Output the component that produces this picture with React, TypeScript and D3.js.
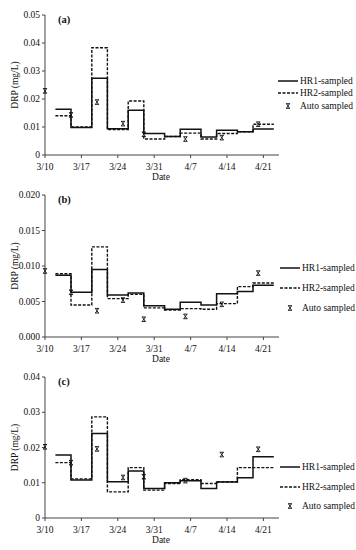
import React from "react";
import * as d3 from "d3";

// ---- data ----
// step boundaries in days after 3/10 (sampling intervals)
const stepDays = [2, 5, 9, 12, 16, 19, 23, 26, 30, 33, 37, 40, 44];
// auto sampler days after 3/10
const autoDays = [0, 5, 10, 15, 19, 27, 34, 41];
const tickDays = [0, 7, 14, 21, 28, 35, 42];
const tickLabels = ["3/10", "3/17", "3/24", "3/31", "4/7", "4/14", "4/21"];

const hr1A = [0.0163, 0.0098, 0.0274, 0.0094, 0.016, 0.0077, 0.0066, 0.0092, 0.0064, 0.0088, 0.0083, 0.0093];
const hr2A = [0.014, 0.0100, 0.0383, 0.0091, 0.0193, 0.0057, 0.0066, 0.0078, 0.0057, 0.0077, 0.0083, 0.011];
const autoA = [0.0229, 0.0143, 0.0189, 0.0112, 0.0074, 0.0057, 0.0062, 0.011];

const hr1B = [0.0087, 0.0063, 0.0095, 0.0059, 0.0062, 0.0044, 0.0039, 0.0049, 0.0045, 0.0061, 0.0064, 0.0073];
const hr2B = [0.0089, 0.0045, 0.0127, 0.0054, 0.006, 0.0041, 0.0038, 0.004, 0.0039, 0.0047, 0.0071, 0.0076];
const autoB = [0.0093, 0.0063, 0.0037, 0.0052, 0.0025, 0.0029, 0.0046, 0.009];

const hr1C = [0.0179, 0.0108, 0.024, 0.0103, 0.0133, 0.0084, 0.01, 0.0106, 0.0084, 0.0102, 0.0114, 0.0174];
const hr2C = [0.0157, 0.0111, 0.0287, 0.0074, 0.0143, 0.0079, 0.0098, 0.0109, 0.0098, 0.0103, 0.0143, 0.0143];
const autoC = [0.0202, 0.0157, 0.0196, 0.0115, 0.0117, 0.0106, 0.018, 0.0195];

const yTicksA = [0, 0.01, 0.02, 0.03, 0.04, 0.05];
const yTicksB = [0, 0.005, 0.01, 0.015, 0.02];
const yTicksC = [0, 0.01, 0.02, 0.03, 0.04];

const legendLabels = ["HR1-sampled", "HR2-sampled", "Auto sampled"];

// ---- layout ----
const W = 356;
const H = 550;
const FONT = "Liberation Serif, serif";
const xScale = d3.scaleLinear().domain([0, 45]).range([45, 279]);

const panels = [
  { tag: "(a)", hr1: hr1A, hr2: hr2A, auto: autoA, yTicks: yTicksA, fmt: (v: number) => (v === 0 ? "0" : d3.format(".2f")(v)), top: 15, bottom: 155, legY: [81, 93, 106], legX: 278 },
  { tag: "(b)", hr1: hr1B, hr2: hr2B, auto: autoB, yTicks: yTicksB, fmt: d3.format(".3f"), top: 195, bottom: 337, legY: [268, 288, 308], legX: 280 },
  { tag: "(c)", hr1: hr1C, hr2: hr2C, auto: autoC, yTicks: yTicksC, fmt: (v: number) => (v === 0 ? "0" : d3.format(".2f")(v)), top: 377, bottom: 518, legY: [467, 487, 506], legX: 280 },
];

const markerPath = "M-2,-2.3H2M-2,2.3H2M-1.6,-2.3L1.6,2.3M1.6,-2.3L-1.6,2.3";

function Panel({ p }: { p: (typeof panels)[number] }) {
  const y = d3.scaleLinear().domain([0, p.yTicks[p.yTicks.length - 1]]).range([p.bottom, p.top]);
  const line = d3
    .line<[number, number]>()
    .x((d) => xScale(d[0]))
    .y((d) => y(d[1]))
    .curve(d3.curveStepAfter);
  const pts = (vals: number[]): [number, number][] => {
    const a: [number, number][] = vals.map((v, i) => [stepDays[i], v]);
    a.push([stepDays[stepDays.length - 1], vals[vals.length - 1]]);
    return a;
  };
  const x0 = xScale.range()[0];
  const x1 = xScale.range()[1];
  const lx = p.legX;
  return (
    <g fontFamily={FONT} fontSize={9.5} fill="#111">
      {/* axes */}
      <line x1={x0} x2={x0} y1={p.top} y2={p.bottom} stroke="#444" strokeWidth={1} />
      <line x1={x0} x2={x1} y1={p.bottom} y2={p.bottom} stroke="#444" strokeWidth={1} />
      {p.yTicks.map((t) => (
        <g key={t}>
          <line x1={x0 - 3} x2={x0} y1={y(t)} y2={y(t)} stroke="#444" />
          <text x={x0 - 5} y={y(t)} dy="0.33em" textAnchor="end">
            {p.fmt(t)}
          </text>
        </g>
      ))}
      {tickDays.map((d, i) => (
        <g key={d}>
          <line x1={xScale(d)} x2={xScale(d)} y1={p.bottom} y2={p.bottom + 3} stroke="#444" />
          <text x={xScale(d)} y={p.bottom + 12} dy="0.33em" textAnchor="middle">
            {tickLabels[i]}
          </text>
        </g>
      ))}
      <text x={161} y={p.bottom + 22} dy="0.33em" textAnchor="middle">
        Date
      </text>
      <text
        transform={`translate(15,${(p.top + p.bottom) / 2}) rotate(-90)`}
        textAnchor="middle"
        dy="0.33em"
      >
        DRP (mg/L)
      </text>
      <text x={58} y={p.top + 8} fontSize={10.5} fontWeight="bold">
        {p.tag}
      </text>
      {/* series */}
      <path d={line(pts(p.hr2)) || ""} fill="none" stroke="#111" strokeWidth={1.4} strokeDasharray="3,1.5" />
      <path d={line(pts(p.hr1)) || ""} fill="none" stroke="#111" strokeWidth={1.5} />
      {p.auto.map((v, i) => (
        <path key={i} d={markerPath} transform={`translate(${xScale(autoDays[i])},${y(v)})`} stroke="#111" strokeWidth={0.9} fill="none" />
      ))}
      {/* legend */}
      <line x1={lx} x2={lx + 20} y1={p.legY[0]} y2={p.legY[0]} stroke="#111" strokeWidth={1.5} />
      <line x1={lx} x2={lx + 20} y1={p.legY[1]} y2={p.legY[1]} stroke="#111" strokeWidth={1.4} strokeDasharray="3,1.5" />
      <path d={markerPath} transform={`translate(${lx + 10},${p.legY[2]})`} stroke="#111" strokeWidth={0.9} fill="none" />
      {legendLabels.map((l, i) => (
        <text key={l} x={lx + 22} y={p.legY[i]} dy="0.33em">
          {l}
        </text>
      ))}
    </g>
  );
}

export default function App() {
  return (
    <div style={{ position: "absolute", left: 0, top: 0, width: W, height: H, background: "#fff" }}>
      <svg width={W} height={H} viewBox={`0 0 ${W} ${H}`}>
        <rect width={W} height={H} fill="#fff" />
        {panels.map((p) => (
          <Panel key={p.tag} p={p} />
        ))}
      </svg>
    </div>
  );
}
